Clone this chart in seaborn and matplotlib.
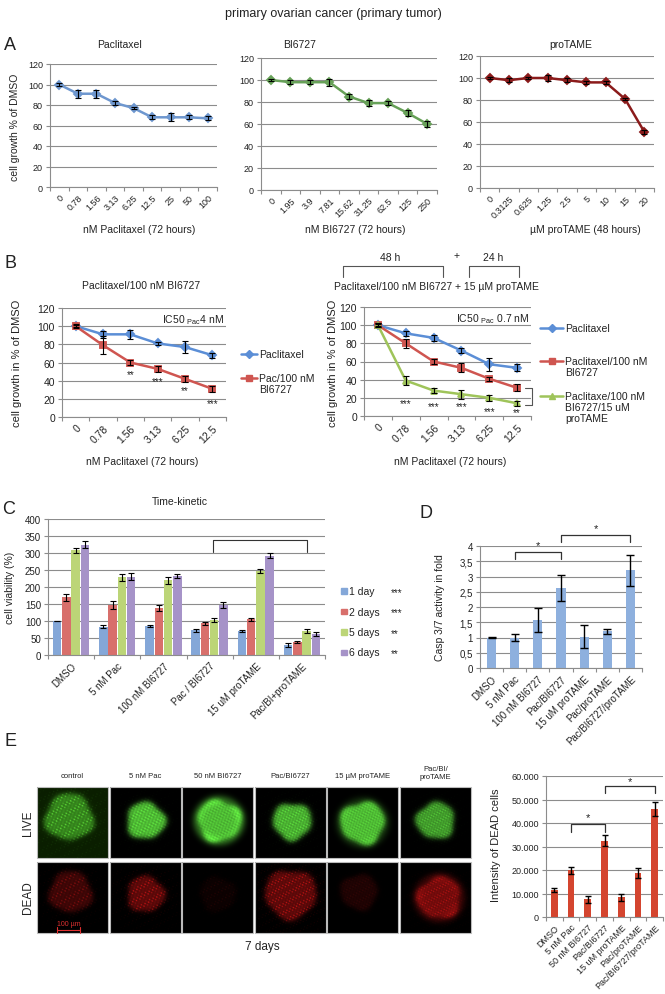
import numpy as np
import pandas as pd
import matplotlib
matplotlib.use("Agg")
import matplotlib.pyplot as plt
import seaborn as sns
from matplotlib.patches import Rectangle

# ---------------- data ----------------
pac_conc = ["0", "0.78", "1.56", "3.13", "6.25", "12.5", "25", "50", "100"]
pac_growth = [100, 91, 91, 82, 77, 68, 68, 68, 67]
pac_err = [1, 4, 4, 2, 1, 2, 4, 2, 2]

bi_conc = ["0", "1.95", "3.9", "7.81", "15.62", "31.25", "62.5", "125", "250"]
bi_growth = [100, 98, 98, 98, 85, 79, 79, 70, 60]
bi_err = [1, 2, 2, 3, 2, 3, 2, 3, 3]

pt_conc = ["0", "0.3125", "0.625", "1.25", "2.5", "5", "10", "15", "20"]
pt_growth = [100, 98, 100, 100, 98, 96, 96, 81, 51]
pt_err = [1, 2, 1, 3, 2, 1, 1, 1, 2]

b_conc = ["0", "0.78", "1.56", "3.13", "6.25", "12.5"]
b1_pac = [100, 91, 91, 81, 77, 68]
b1_pac_err = [1, 4, 5, 2, 7, 3]
b1_combo = [100, 79, 60, 53, 42, 31]
b1_combo_err = [2, 10, 3, 3, 3, 3]
b1_stars = ["", "", "**", "***", "**", "***"]
b1_star_pos = [0, 0, 47, 40, 30, 15]

b2_pac = [100, 91, 86, 72, 57, 53]
b2_pac_err = [1, 3, 3, 3, 7, 4]
b2_combo = [100, 80, 60, 53, 41, 31]
b2_combo_err = [2, 5, 3, 5, 2, 4]
b2_triple = [100, 39, 28, 24, 20, 14]
b2_triple_err = [2, 5, 3, 5, 3, 3]
b2_stars = ["", "***", "***", "***", "***", "**"]
b2_star_pos = [0, 14, 11, 11, 5, 4]

c_conditions = ["DMSO", "5 nM Pac", "100 nM BI6727", "Pac / BI6727",
                "15 uM proTAME", "Pac/BI+proTAME"]
c_days = ["1 day", "2 days", "5 days", "6 days"]
c_day1 = [100, 83, 85, 73, 71, 30]
c_day2 = [170, 147, 138, 93, 105, 38]
c_day5 = [308, 228, 220, 103, 247, 70]
c_day6 = [325, 230, 233, 147, 292, 62]
c_day1_err = [1, 5, 4, 4, 3, 5]
c_day2_err = [10, 13, 10, 5, 5, 4]
c_day5_err = [8, 10, 10, 7, 6, 6]
c_day6_err = [10, 10, 6, 8, 8, 5]
c_sig = ["***", "***", "**", "**"]

d_conditions = ["DMSO", "5 nM Pac", "100 nM BI6727", "Pac/BI6727",
                "15 uM proTAME", "Pac/proTAME", "Pac/BI6727/proTAME"]
d_fold = [1.0, 1.0, 1.58, 2.62, 1.03, 1.2, 3.2]
d_err = [0.01, 0.1, 0.4, 0.42, 0.38, 0.08, 0.52]

e_conditions = ["DMSO", "5 nM Pac", "50 nM BI6727", "Pac/BI6727",
                "15 uM proTAME", "Pac/proTAME", "Pac/BI6727/proTAME"]
e_dead = [11500, 19800, 7600, 32500, 8300, 18800, 45800]
e_err = [1000, 1500, 1500, 2200, 1500, 2000, 3000]

img_titles = ["control", "5 nM Pac", "50 nM BI6727", "Pac/BI6727",
              "15 \u00b5M proTAME", "Pac/BI/\nproTAME"]

# ---------------- style ----------------
sns.set_theme(style="white")
plt.rcParams["font.family"] = ["Liberation Sans", "DejaVu Sans"]
plt.rcParams["mathtext.fontset"] = "custom"
plt.rcParams["mathtext.rm"] = "Liberation Sans"
plt.rcParams["mathtext.it"] = "Liberation Sans:italic"

W, H = 665, 995
fig = plt.figure(figsize=(W / 100, H / 100), dpi=100)
fig.patch.set_facecolor("white")
GRID = "#8c8c8c"
TXT = "#222222"


def axpx(x0, y0, x1, y1):
    return fig.add_axes([x0 / W, 1 - y1 / H, (x1 - x0) / W, (y1 - y0) / H])


def excel(ax, ymax, step, n, fs, labels, rot=45, fmt=None):
    ax.set_facecolor("none")
    ax.set_xlim(-0.5, n - 0.5)
    ax.set_ylim(0, ymax)
    ticks = np.arange(0, ymax + step / 2, step)
    ax.set_yticks(ticks)
    if fmt is not None:
        ax.set_yticklabels([fmt(t) for t in ticks])
    ax.yaxis.grid(True, color=GRID, lw=0.8)
    ax.xaxis.grid(False)
    ax.set_axisbelow(True)
    for s in ["top", "right"]:
        ax.spines[s].set_visible(False)
    for s in ["left", "bottom"]:
        ax.spines[s].set_color(GRID)
        ax.spines[s].set_linewidth(0.8)
    ax.tick_params(axis="y", length=3, width=0.8, color=GRID, labelsize=fs,
                   pad=2, labelcolor=TXT, left=True)
    ax.set_xticks(np.arange(n))
    ax.set_xticklabels(labels, rotation=rot, ha="right",
                       rotation_mode="anchor")
    ax.set_xticks(np.arange(-0.5, n), minor=True)
    ax.tick_params(axis="x", which="major", length=0, labelsize=fs, pad=4,
                   labelcolor=TXT)
    ax.tick_params(axis="x", which="minor", length=3, width=0.8, color=GRID,
                   bottom=True)
    ax.set_xlabel("")
    ax.set_ylabel("")


def series(ax, cats, vals, errs, color, marker, ms, lw=1.8):
    sns.pointplot(x=cats, y=vals, color=color, markers=marker,
                  linestyles="-", errorbar=None, ax=ax,
                  markersize=ms, linewidth=lw)
    ax.errorbar(np.arange(len(cats)), vals, yerr=errs, fmt="none",
                ecolor="black", elinewidth=0.8, capsize=2, capthick=0.8,
                zorder=6)


# overlay axes in pixel coordinates for annotations
ov = fig.add_axes([0, 0, 1, 1], zorder=10)
ov.axis("off")

# ---------------- Panel A ----------------
BLUE_A = "#6e97cf"
GREEN_A = "#67a158"
RED_A = "#8b1b1b"
a1 = axpx(50, 65, 217, 188)
series(a1, pac_conc, pac_growth, pac_err, BLUE_A, "D", 4)
excel(a1, 120, 20, 9, 6.5, pac_conc)
a2 = axpx(261, 59, 437, 191)
series(a2, bi_conc, bi_growth, bi_err, GREEN_A, "D", 4)
excel(a2, 120, 20, 9, 6.5, bi_conc)
a3 = axpx(480, 57, 654, 189)
series(a3, pt_conc, pt_growth, pt_err, RED_A, "D", 4)
excel(a3, 120, 20, 9, 6.5, pt_conc)

# ---------------- Panel B ----------------
BLUE_B = "#5b8ed6"
RED_B = "#cf5550"
GREEN_B = "#9fc45a"
b1 = axpx(62, 309, 226, 418)
series(b1, b_conc, b1_pac, b1_pac_err, BLUE_B, "D", 4)
series(b1, b_conc, b1_combo, b1_combo_err, RED_B, "s", 5)
excel(b1, 120, 20, 6, 7.5, b_conc)
for i, s in enumerate(b1_stars):
    if s:
        b1.text(i, b1_star_pos[i], s, ha="center", va="center", fontsize=7,
                color=TXT)
b1.text(0.99, 0.9, r"IC50 $_{\mathrm{Pac}}$4 nM", transform=b1.transAxes,
        ha="right", va="center", fontsize=7.5, color=TXT)

b2 = axpx(364, 308, 531, 417)
series(b2, b_conc, b2_pac, b2_pac_err, BLUE_B, "D", 4)
series(b2, b_conc, b2_combo, b2_combo_err, RED_B, "s", 5)
series(b2, b_conc, b2_triple, b2_triple_err, GREEN_B, "^", 5)
excel(b2, 120, 20, 6, 7.5, b_conc)
for i, s in enumerate(b2_stars):
    if s:
        b2.text(i, b2_star_pos[i], s, ha="center", va="center", fontsize=7,
                color=TXT)
b2.text(0.99, 0.9, r"IC50 $_{\mathrm{Pac}}$ 0.7 nM", transform=b2.transAxes,
        ha="right", va="center", fontsize=7.5, color=TXT)
b2.plot([5.28, 5.55, 5.55, 5.28],
        [b2_combo[-1], b2_combo[-1], b2_triple[-1] - 2, b2_triple[-1] - 2],
        color="#555555", lw=0.8, clip_on=False)

# ---------------- Panel C ----------------
c_colors = ["#84a7d8", "#d86f6b", "#bcd577", "#a693c8"]
axc = axpx(48, 520, 325, 656)
dfc = pd.DataFrame({
    "cond": np.tile(c_conditions, 4),
    "day": np.repeat(c_days, 6),
    "val": np.concatenate([c_day1, c_day2, c_day5, c_day6]),
})
sns.barplot(data=dfc, x="cond", y="val", hue="day", order=c_conditions,
            hue_order=c_days, palette=c_colors, width=0.8, gap=0.08,
            saturation=1, errorbar=None, legend=False, linewidth=0, ax=axc)
for cont, err in zip(axc.containers,
                     [c_day1_err, c_day2_err, c_day5_err, c_day6_err]):
    xs = [b.get_x() + b.get_width() / 2 for b in cont]
    hs = [b.get_height() for b in cont]
    axc.errorbar(xs, hs, yerr=err, fmt="none", ecolor="black",
                 elinewidth=0.8, capsize=2, capthick=0.8, zorder=6)
excel(axc, 400, 50, 6, 7, c_conditions)
axc.plot([3.07, 3.07, 5.11, 5.11], [303, 338, 338, 303], color="#333333",
         lw=0.8)

# ---------------- Panel D ----------------
axd = axpx(480, 547, 642, 669)
sns.barplot(x=d_conditions, y=d_fold, color="#8eb0de", width=0.4,
            saturation=1, errorbar=None, linewidth=0, ax=axd)
axd.errorbar(np.arange(len(d_fold)), d_fold, yerr=d_err, fmt="none",
             ecolor="black", elinewidth=1.0, capsize=3, capthick=1.0, zorder=6)
excel(axd, 4, 0.5, 7, 7, d_conditions,
      fmt=lambda t: ("%g" % t).replace(".", ","))
axd.plot([1, 1, 3, 3], [3.57, 3.8, 3.8, 3.57], color="#333333", lw=0.9,
         clip_on=False)
axd.text(2, 4.02, "*", ha="center", va="center", fontsize=8, color=TXT)
axd.plot([3, 3, 6, 6], [4.13, 4.36, 4.36, 4.13], color="#333333", lw=0.9,
         clip_on=False)
axd.text(4.5, 4.58, "*", ha="center", va="center", fontsize=8, color=TXT)

# ---------------- Panel E bars ----------------
axe = axpx(546, 777, 663, 918)
sns.barplot(x=e_conditions, y=e_dead, color="#d4452f", width=0.4,
            saturation=1, errorbar=None, linewidth=0, ax=axe)
axe.errorbar(np.arange(len(e_dead)), e_dead, yerr=e_err, fmt="none",
             ecolor="black", elinewidth=1.0, capsize=2.5, capthick=1.0,
             zorder=6)
excel(axe, 60000, 10000, 7, 6.5, e_conditions,
      fmt=lambda t: "0" if t == 0 else "{:,.0f}".format(t).replace(",", "."))
axe.plot([1, 1, 3, 3], [36000, 39600, 39600, 36000], color="#333333", lw=0.9)
axe.text(2, 42500, "*", ha="center", va="center", fontsize=8, color=TXT)
axe.plot([3, 3, 6, 6], [52700, 55700, 55700, 52700], color="#333333", lw=0.9,
         clip_on=False)
axe.text(4.5, 58000, "*", ha="center", va="center", fontsize=8, color=TXT)

# ---------------- microscopy tiles (schematic) ----------------
live_par = [(0.45, 0.42, 0.34, 0.5, 0.6, 0.0),
            (0.5, 0.47, 0.27, 0.9, 0.25, 0.0),
            (0.52, 0.47, 0.3, 0.9, 0.0, 0.3),
            (0.52, 0.48, 0.27, 0.85, 0.35, 0.0),
            (0.5, 0.5, 0.31, 0.9, 0.05, 0.12),
            (0.5, 0.47, 0.27, 0.75, 0.25, 0.0)]
dead_par = [(0.47, 0.42, 0.3, 0.3, 0.45, 0.0),
            (0.5, 0.45, 0.26, 0.45, 0.8, 0.0),
            (0.5, 0.45, 0.25, 0.06, 0.15, 0.0),
            (0.5, 0.45, 0.36, 0.45, 0.9, 0.0),
            (0.45, 0.42, 0.26, 0.15, 0.12, 0.0),
            (0.55, 0.5, 0.3, 0.55, 0.45, 0.15)]


def tile(par, live, k):
    cx, cy, R, amp, speck, halo = par
    n = 140
    yy, xx = np.mgrid[0:n, 0:n] / n
    ang = np.arctan2(yy - cy, xx - cx)
    r = np.hypot(xx - cx, (yy - cy) * 1.05)
    rr = R * (1 + 0.06 * np.sin(3 * ang + k) + 0.04 * np.sin(5 * ang + 2 * k))
    body = 1 / (1 + np.exp((r - rr) / 0.02))
    s = (np.sin(xx * (131 + 9 * k) + yy * 47) +
         np.sin(yy * (157 + 5 * k) - xx * 61) +
         np.sin(xx * 89 - yy * (113 + 3 * k)))
    dots = np.clip(s - 1.6, 0, None) / 1.4
    tex = 0.82 + 0.06 * s
    inten = amp * body * tex
    inten += speck * dots * (body * 0.9 + 0.35 * np.exp(-(r / (R * 1.9)) ** 2))
    inten += halo * np.exp(-((r - R * 1.05) / 0.07) ** 2)
    inten = np.clip(inten, 0, 1)
    img = np.zeros((n, n, 3))
    if live:
        img[..., 0] = 0.42 * inten
        img[..., 1] = inten
        img[..., 2] = 0.28 * inten
        if k == 0:
            img[..., 1] += 0.12
            img[..., 0] += 0.04
    else:
        img[..., 0] = inten
        img[..., 1] = 0.1 * inten
        img[..., 2] = 0.1 * inten
    return np.clip(img, 0, 1)


for k in range(6):
    x0 = 37 + k * 72.6
    for row, (y0, live) in enumerate([(788, True), (863, False)]):
        par = live_par[k] if live else dead_par[k]
        ov.imshow(tile(par, live, k), extent=(x0, x0 + 71, y0 + 71, y0),
                  aspect="auto", interpolation="bilinear", zorder=1)
        ov.add_patch(Rectangle((x0, y0), 71, 71, fill=False, ec="#bbbbbb",
                               lw=0.8, zorder=2))
    if "\n" in img_titles[k]:
        ov.text(x0 + 35.5, 781, img_titles[k], ha="center", va="bottom",
                fontsize=5.5, color=TXT, linespacing=1.2)
    else:
        ov.text(x0 + 35.5, 777, img_titles[k], ha="center", va="center",
                fontsize=5.5, color=TXT)

ov.set_xlim(0, W)
ov.set_ylim(H, 0)

# scale bar
ov.plot([57, 80], [931, 931], color="#e03030", lw=0.8, zorder=3)
ov.plot([57, 57], [928, 934], color="#e03030", lw=0.8, zorder=3)
ov.plot([80, 80], [928, 934], color="#e03030", lw=0.8, zorder=3)
ov.text(68.5, 925, "100 \u00b5m", ha="center", va="center", fontsize=5,
        color="#e03030", zorder=3)
ov.text(28, 823, "LIVE", rotation=90, ha="center", va="center", fontsize=8.5,
        color=TXT)
ov.text(28, 898, "DEAD", rotation=90, ha="center", va="center", fontsize=8.5,
        color=TXT)
ov.text(262, 947, "7 days", ha="center", va="center", fontsize=8.5, color=TXT)

# ---------------- texts ----------------
ov.text(333, 14, "primary ovarian cancer (primary tumor)", ha="center",
        va="center", fontsize=9, color=TXT)
for lab, x, y in [("A", 10, 45), ("B", 11, 263), ("C", 9, 510),
                  ("D", 426, 513), ("E", 10, 742)]:
    ov.text(x, y, lab, ha="center", va="center", fontsize=13, color=TXT)

ov.text(120, 45, "Paclitaxel", ha="center", va="center", fontsize=7.5, color=TXT)
ov.text(300, 45, "BI6727", ha="center", va="center", fontsize=7.5, color=TXT)
ov.text(571, 45, "proTAME", ha="center", va="center", fontsize=7.5, color=TXT)
ov.text(15, 127, "cell growth % of DMSO", rotation=90, ha="center",
        va="center", fontsize=7.5, color=TXT)
ov.text(139, 230, "nM Paclitaxel (72 hours)", ha="center", va="center",
        fontsize=7.5, color=TXT)
ov.text(355, 230, "nM BI6727 (72 hours)", ha="center", va="center",
        fontsize=7.5, color=TXT)
ov.text(585, 230, "\u00b5M proTAME (48 hours)", ha="center", va="center",
        fontsize=7.5, color=TXT)

ov.text(141, 286, "Paclitaxel/100 nM BI6727", ha="center", va="center",
        fontsize=7.5, color=TXT)
ov.text(436, 287, "Paclitaxel/100 nM BI6727 + 15 \u00b5M proTAME",
        ha="center", va="center", fontsize=7.5, color=TXT)
ov.text(390, 258, "48 h", ha="center", va="center", fontsize=7.5, color=TXT)
ov.text(457, 256, "+", ha="center", va="center", fontsize=7.5, color=TXT)
ov.text(493, 258, "24 h", ha="center", va="center", fontsize=7.5, color=TXT)
ov.plot([343, 343, 443, 443], [278, 267, 267, 278], color="#555555", lw=0.8)
ov.plot([469, 469, 519, 519], [278, 267, 267, 278], color="#555555", lw=0.8)
ov.text(17, 363, "cell growth in % of DMSO", rotation=90, ha="center",
        va="center", fontsize=8, color=TXT)
ov.text(333, 363, "cell growth in % of DMSO", rotation=90, ha="center",
        va="center", fontsize=8, color=TXT)
ov.text(142, 462, "nM Paclitaxel (72 hours)", ha="center", va="center",
        fontsize=7.5, color=TXT)
ov.text(450, 462, "nM Paclitaxel (72 hours)", ha="center", va="center",
        fontsize=7.5, color=TXT)


def leg_line(x0, x1, y, color, marker, ms):
    ov.plot([x0, x1], [y, y], color=color, lw=1.8)
    ov.plot([(x0 + x1) / 2], [y], marker=marker, color=color, ms=ms)


leg_line(241, 257, 355, BLUE_B, "D", 4)
ov.text(259, 355, "Paclitaxel", va="center", fontsize=7.5, color=TXT)
leg_line(241, 257, 379, RED_B, "s", 5)
ov.text(259, 379, "Pac/100 nM", va="center", fontsize=7.5, color=TXT)
ov.text(259, 390, "BI6727", va="center", fontsize=7.5, color=TXT)

leg_line(540, 563, 329, BLUE_B, "D", 4)
ov.text(565, 329, "Paclitaxel", va="center", fontsize=7.5, color=TXT)
leg_line(540, 563, 362, RED_B, "s", 5)
ov.text(565, 362, "Paclitaxel/100 nM", va="center", fontsize=7.5, color=TXT)
ov.text(565, 373, "BI6727", va="center", fontsize=7.5, color=TXT)
leg_line(540, 563, 397, GREEN_B, "^", 5)
ov.text(565, 397, "Paclitaxe/100 nM", va="center", fontsize=7.5, color=TXT)
ov.text(565, 408, "BI6727/15 uM", va="center", fontsize=7.5, color=TXT)
ov.text(565, 419, "proTAME", va="center", fontsize=7.5, color=TXT)

# panel C texts
ov.text(180, 502, "Time-kinetic", ha="center", va="center", fontsize=7.5,
        color=TXT)
ov.text(10, 588, "cell viability (%)", rotation=90, ha="center", va="center",
        fontsize=7.5, color=TXT)
for i, (lab, col) in enumerate(zip(c_days, c_colors)):
    y = 592 + i * 20.5
    ov.add_patch(Rectangle((341, y - 3), 5.5, 5.5, color=col, zorder=3))
    ov.text(349, y, lab, va="center", fontsize=7.5, color=TXT)
    ov.text(391, y + 1, c_sig[i], va="center", fontsize=7, color=TXT)

# panel D / E labels
ov.text(440, 608, "Casp 3/7 activity in fold", rotation=90, ha="center",
        va="center", fontsize=7.5, color=TXT)
ov.text(496, 845, "Intensity of DEAD cells", rotation=90, ha="center",
        va="center", fontsize=8, color=TXT)

fig.savefig("out.png", dpi=100)
